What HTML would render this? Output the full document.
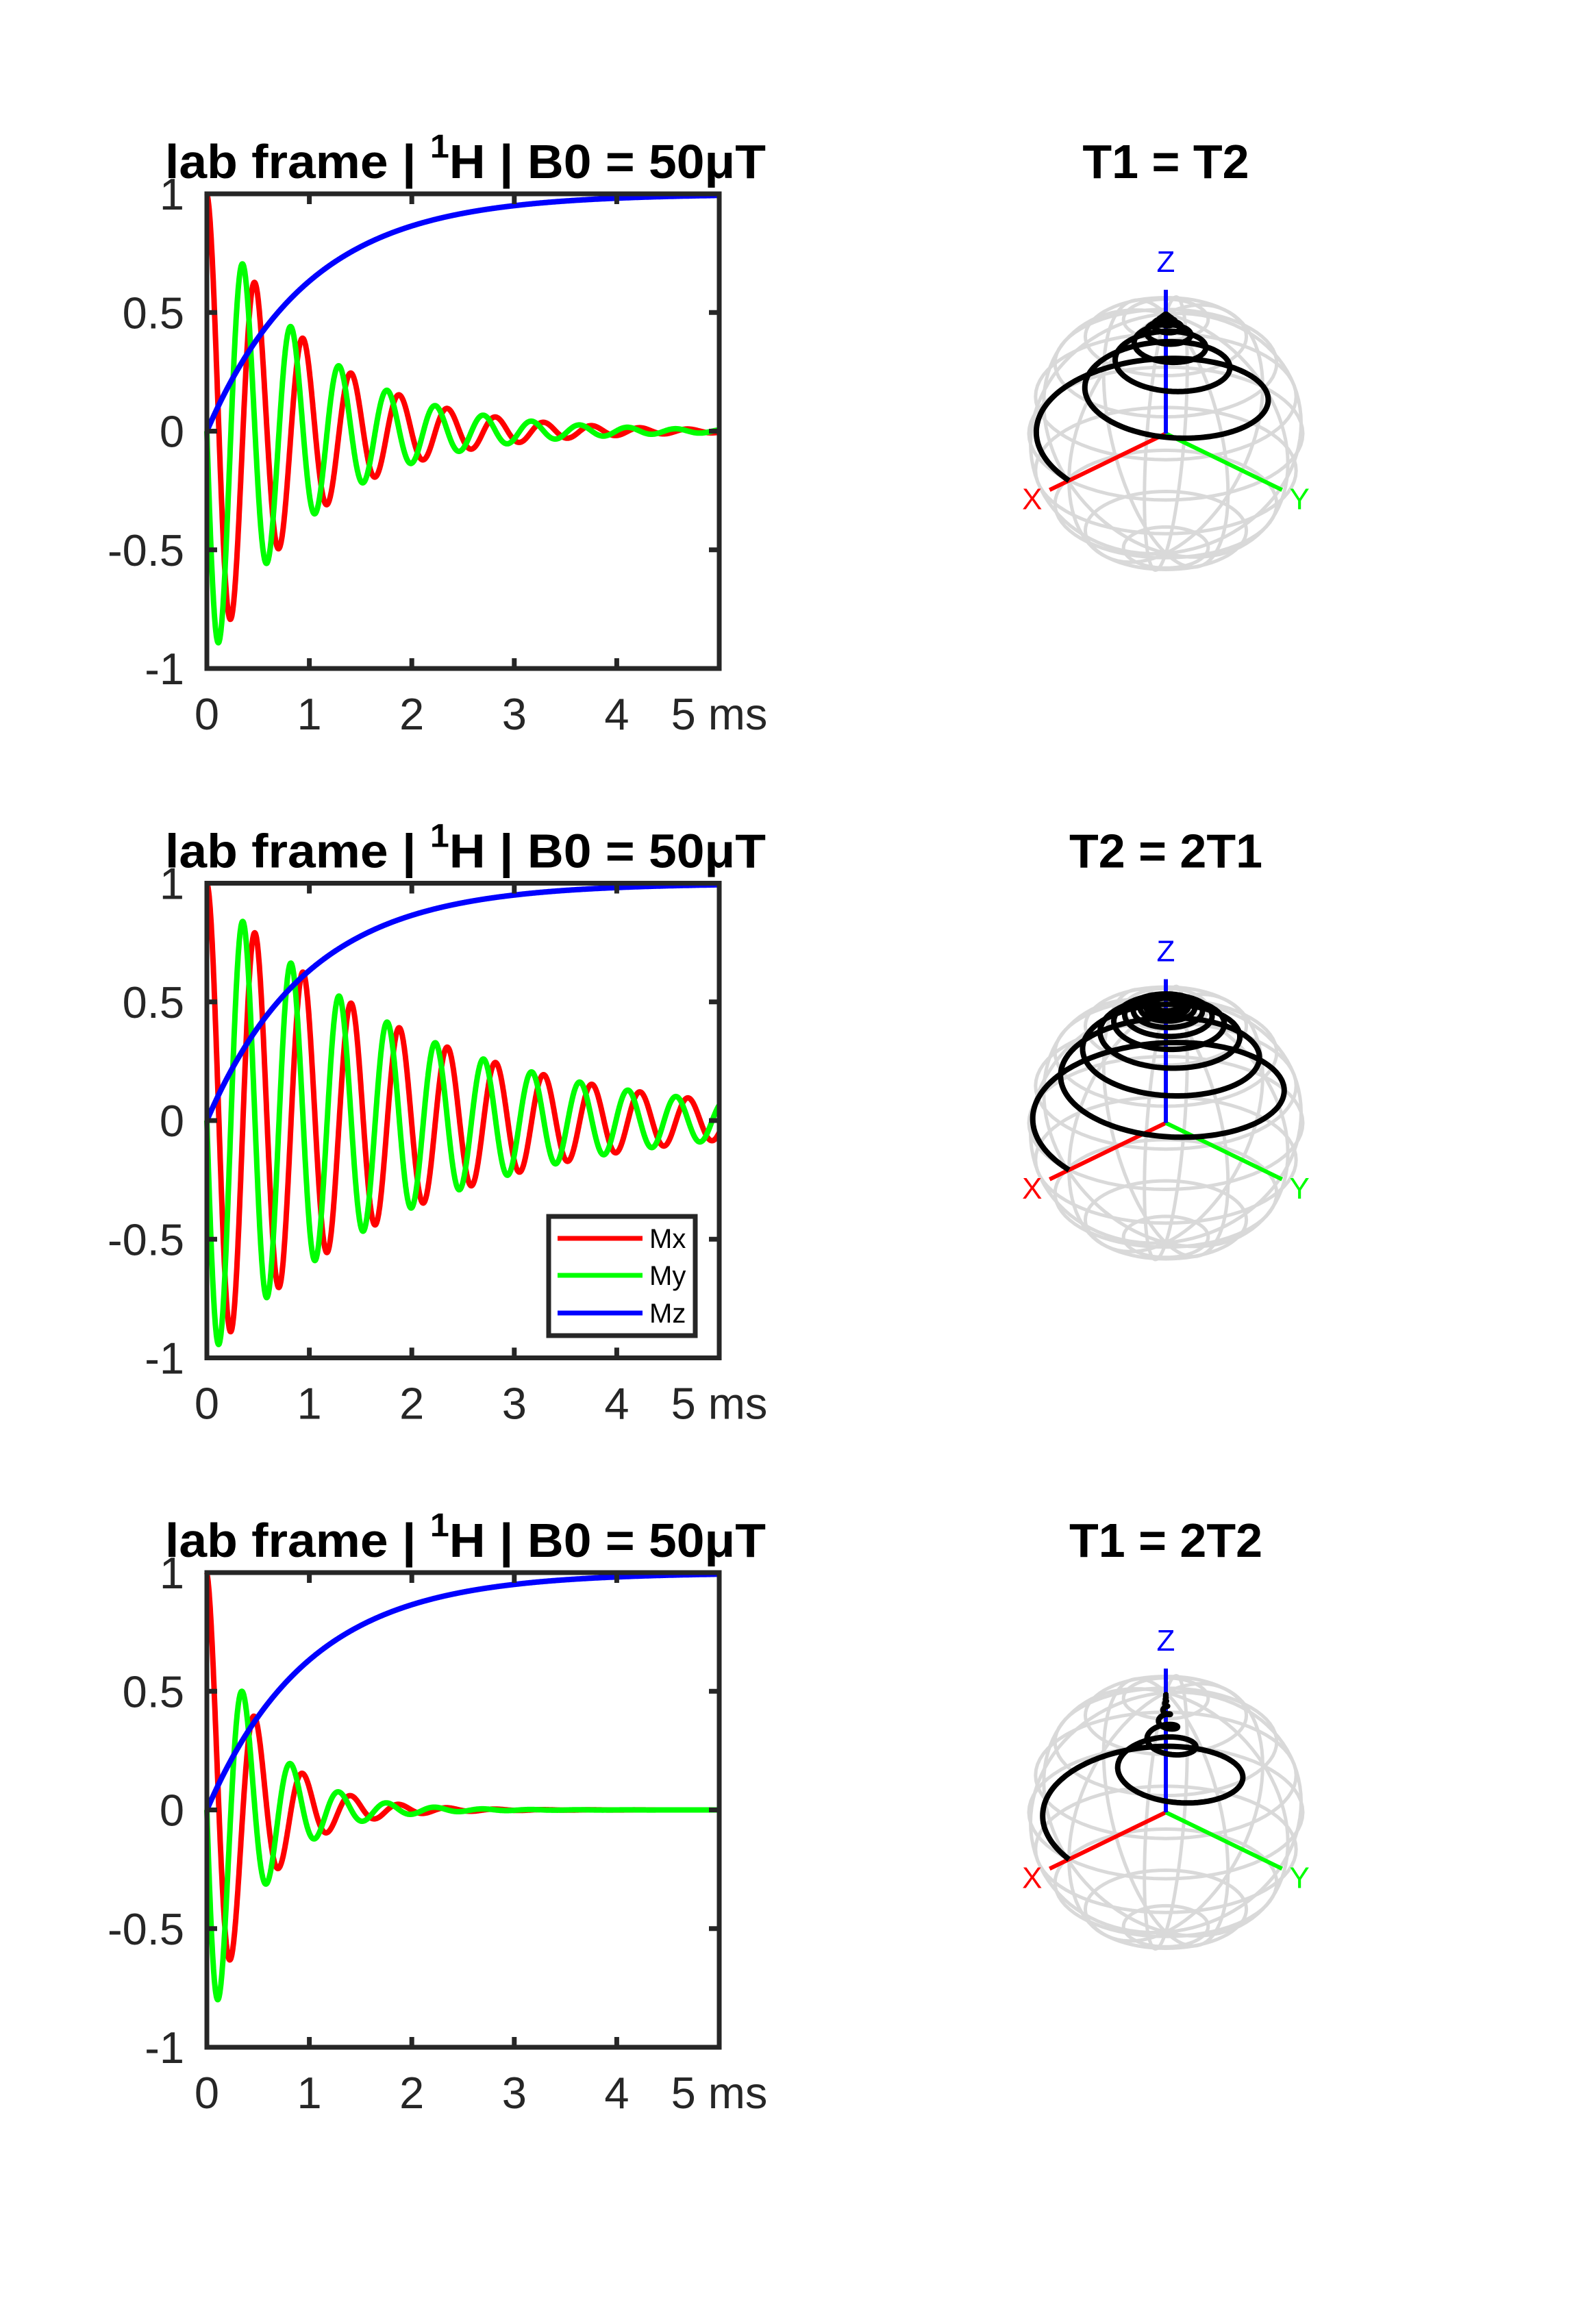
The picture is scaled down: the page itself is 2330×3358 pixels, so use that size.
<!DOCTYPE html>
<html><head><meta charset="utf-8"><style>
html,body{margin:0;padding:0;background:#fff;}
svg{display:block;font-family:"Liberation Sans",Arial,sans-serif;}
</style></head><body>
<svg id="fig" width="2330" height="3358" viewBox="0 0 2330 3358" xmlns="http://www.w3.org/2000/svg"></svg>
<script>
// ---- data ----
const panelTitles = ["T1 = T2", "T2 = 2T1", "T1 = 2T2"];
const T1ms = [1, 1, 1];
const T2ms = [1, 2, 0.5];
const larmorKHz = [2.129, 2.129, 2.129];
const xTicks = [0, 1, 2, 3, 4, 5];
const xTickLabels = ["0", "1", "2", "3", "4", "5 ms"];
const yTicks = [-1, -0.5, 0, 0.5, 1];
const yTickLabels = ["-1", "-0.5", "0", "0.5", "1"];
const seriesNames = ["Mx", "My", "Mz"];
const seriesColors = ["#ff0000", "#00ff00", "#0000ff"];

const NS = "http://www.w3.org/2000/svg";
const svg = document.getElementById("fig");
function mk(tag, attrs, parent) {
  const e = document.createElementNS(NS, tag);
  for (const k in attrs) e.setAttribute(k, attrs[k]);
  (parent || svg).appendChild(e);
  return e;
}
const L = 302, R = 1050, H = 693;
const tops = [283, 1289.5, 2296];
const sphCx = 1702, sphCy = [633, 1639.5, 2646], sr = 200;
const AX = "#262626";

function bloch(i, t) {
  const e2 = Math.exp(-t / T2ms[i]);
  const w = 2 * Math.PI * larmorKHz[i] * t;
  return [Math.cos(w) * e2, -Math.sin(w) * e2, 1 - Math.exp(-t / T1ms[i])];
}

for (let p = 0; p < 3; p++) {
  const T = tops[p], B = T + H;
  const xs = v => L + (v - xTicks[0]) / (xTicks[xTicks.length - 1] - xTicks[0]) * (R - L);
  const ys = v => B - (v + 1) / 2 * H;
  const g = mk("g", {}, svg);
  
  
  // title
  const tt = mk("text", {x: 241, y: T - 23, "font-size": 70, "font-weight": "bold", fill: "#000", textLength: 877, lengthAdjust: "spacingAndGlyphs"}, g);
  
  
  tt.innerHTML = 'lab frame | <tspan dy="-30" font-size="48">1</tspan><tspan dy="30">H | B0 = 50μT</tspan>';
  // curves
  const pts = [[], [], []];
  for (let k = 0; k <= 2000; k++) {
    const t = 5 * k / 2000;
    const m = bloch(p, t);
    for (let s = 0; s < 3; s++) pts[s].push(xs(t).toFixed(1) + "," + ys(m[s]).toFixed(1));
  }
  for (let s = 0; s < 3; s++) {
    const pl = mk("polyline", {points: pts[s].join(" "), fill: "none", stroke: seriesColors[s], "stroke-width": 8, "stroke-linejoin": "round"}, g);
    
    
  }
  // axes box
  const box = mk("rect", {x: L, y: T, width: R - L, height: H, fill: "none", stroke: AX, "stroke-width": 7}, g);
  
  
  xTicks.forEach((v, i) => {
    const x = xs(v);
    mk("line", {x1: x, y1: B, x2: x, y2: B - 15, stroke: AX, "stroke-width": 7}, g);
    mk("line", {x1: x, y1: T, x2: x, y2: T + 15, stroke: AX, "stroke-width": 7}, g);
    const lb = mk("text", {x: x, y: B + 89, "text-anchor": "middle", "font-size": 65, fill: AX}, g);
    
    
    lb.textContent = xTickLabels[i];
  });
  yTicks.forEach((v, i) => {
    const y = ys(v);
    mk("line", {x1: L, y1: y, x2: L + 15, y2: y, stroke: AX, "stroke-width": 7}, g);
    mk("line", {x1: R, y1: y, x2: R - 15, y2: y, stroke: AX, "stroke-width": 7}, g);
    const lb = mk("text", {x: L - 33, y: y + 23, "text-anchor": "end", "font-size": 65, fill: AX}, g);
    
    
    lb.textContent = yTickLabels[i];
  });
  // legend in second plot
  if (p === 1) {
    const lg = mk("g", {}, g);
    
    
    mk("rect", {x: 801, y: 1776, width: 214, height: 174, fill: "#fff", stroke: AX, "stroke-width": 7}, lg);
    [1808, 1862, 1917].forEach((y, s) => {
      const le = mk("g", {}, lg);
      
      
      mk("line", {x1: 814, y1: y, x2: 938, y2: y, stroke: seriesColors[s], "stroke-width": 7}, le);
      const t = mk("text", {x: 948, y: y + 14, "font-size": 40, fill: "#000"}, le);
      t.textContent = seriesNames[s];
    });
  }

  // ---- sphere ----
  const cy = sphCy[p];
  const sg = mk("g", {}, svg);
  
  
  const el = 29 * Math.PI / 180, se = Math.sin(el), ce = Math.cos(el), c45 = Math.SQRT1_2;
  const proj = (x, y, z, r) => [sphCx + r * c45 * (y - x), cy + r * (c45 * se * (x + y) - ce * z)];
  const st = mk("text", {x: sphCx, y: T - 23, "text-anchor": "middle", "font-size": 70, "font-weight": "bold", fill: "#000"}, sg);
  
  
  st.textContent = panelTitles[p];
  const N = 10;
  for (let a = 1; a < N; a++) {
    const th = Math.PI * a / N;
    const pp = [];
    for (let k = 0; k <= 72; k++) {
      const ph = 2 * Math.PI * k / 72;
      const q = proj(Math.sin(th) * Math.cos(ph), Math.sin(th) * Math.sin(ph), Math.cos(th), sr);
      pp.push(q[0].toFixed(1) + "," + q[1].toFixed(1));
    }
    mk("polyline", {points: pp.join(" "), fill: "none", stroke: "#d9d9d9", "stroke-width": 5}, sg);
  }
  for (let b = 0; b < N; b++) {
    const ph = 2 * Math.PI * b / N;
    const pp = [];
    for (let k = 0; k <= 48; k++) {
      const th = Math.PI * k / 48;
      const q = proj(Math.sin(th) * Math.cos(ph), Math.sin(th) * Math.sin(ph), Math.cos(th), sr);
      pp.push(q[0].toFixed(1) + "," + q[1].toFixed(1));
    }
    mk("polyline", {points: pp.join(" "), fill: "none", stroke: "#d9d9d9", "stroke-width": 5}, sg);
  }
  const axDefs = [[[1.2, 0, 0], "#ff0000", "X"], [[0, 1.2, 0], "#00ff00", "Y"], [[0, 0, 1.2], "#0000ff", "Z"]];
  axDefs.forEach(d => {
    const q = proj(d[0][0], d[0][1], d[0][2], sr);
    const ln = mk("line", {x1: sphCx, y1: cy, x2: q[0], y2: q[1], stroke: d[1], "stroke-width": 6}, sg);
    
    
    const lq = proj(d[0][0] * 1.15, d[0][1] * 1.15, d[0][2] * 1.2, sr);
    const t = mk("text", {x: lq[0], y: lq[1] + 16, "text-anchor": "middle", "font-size": 44, fill: d[1]}, sg);
    
    
    t.textContent = d[2];
  });
  const tp = [];
  for (let k = 0; k <= 2000; k++) {
    const m = bloch(p, 5 * k / 2000);
    const q = proj(m[0], m[1], m[2], sr);
    tp.push(q[0].toFixed(1) + "," + q[1].toFixed(1));
  }
  const tr = mk("polyline", {points: tp.join(" "), fill: "none", stroke: "#000", "stroke-width": 8, "stroke-linejoin": "round"}, sg);
  
  
}
</script>
</body></html>
